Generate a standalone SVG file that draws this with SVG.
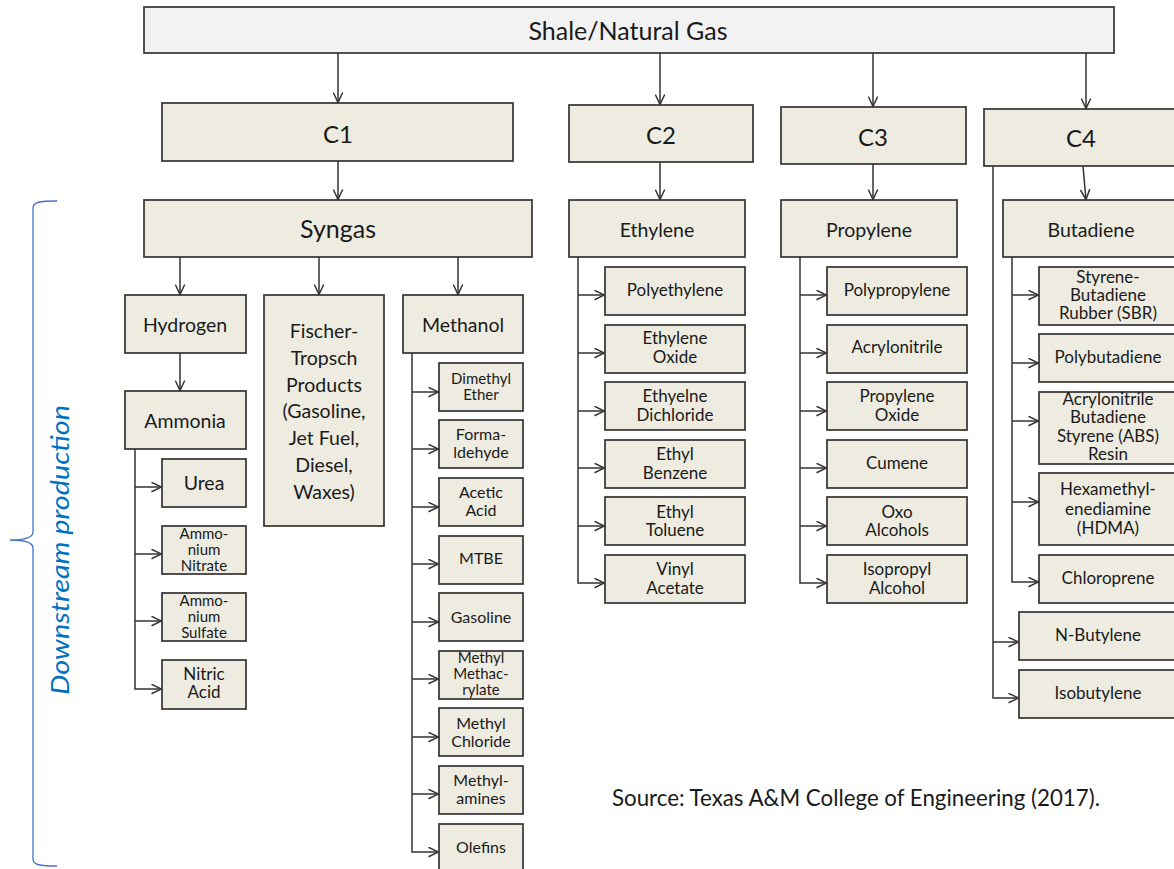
<svg xmlns="http://www.w3.org/2000/svg" width="1174" height="869" viewBox="0 0 1174 869">
<style>
.box{fill:#eeece1;stroke:#333333;stroke-width:1.7}
.top{fill:#f2f2f2;stroke:#333333;stroke-width:1.7}
text{font-family:Lato,"Liberation Sans",sans-serif;fill:#1a1a1a;text-anchor:middle}
.f25{font-size:25px}.f24{font-size:24px}.f19{font-size:19.5px}.f17{font-size:17px}.f16{font-size:16px}.f15{font-size:15px}
.con{fill:none;stroke:#333333;stroke-width:1.5}
.arr{marker-end:url(#ah)}
</style>
<defs>
<marker id="ah" viewBox="0 0 12 11" refX="11.5" refY="5.5" markerWidth="12" markerHeight="11" markerUnits="userSpaceOnUse" orient="auto">
<path d="M1,0.8 L11,5.5 L1,10.2" fill="none" stroke="#333333" stroke-width="1.5"/>
</marker>
</defs>
<rect width="1174" height="869" fill="#ffffff"/>

<g id="connectors" class="con">
<path class="arr" d="M338,53V103"/>
<path class="arr" d="M660,53V105"/>
<path class="arr" d="M873,53V107"/>
<path class="arr" d="M1086,53V109"/>
<path class="arr" d="M338,161V200"/>
<path class="arr" d="M660,162V200"/>
<path class="arr" d="M873,164V200"/>
<path class="arr" d="M1083,166L1086,200"/>
<path class="arr" d="M180,257V295"/>
<path class="arr" d="M319,257V295"/>
<path class="arr" d="M458,257V295"/>
<path class="arr" d="M180,353V391"/>
<path class="arr" d="M135,449V689H162"/>
<path class="arr" d="M135,487H162"/>
<path class="arr" d="M135,554H162"/>
<path class="arr" d="M135,621H162"/>
<path class="arr" d="M412,353V852H439"/>
<path class="arr" d="M412,392H439"/>
<path class="arr" d="M412,449H439"/>
<path class="arr" d="M412,507H439"/>
<path class="arr" d="M412,564H439"/>
<path class="arr" d="M412,622H439"/>
<path class="arr" d="M412,679H439"/>
<path class="arr" d="M412,737H439"/>
<path class="arr" d="M412,794H439"/>
<path class="arr" d="M578,257V583H605"/>
<path class="arr" d="M578,295H605"/>
<path class="arr" d="M578,353H605"/>
<path class="arr" d="M578,411H605"/>
<path class="arr" d="M578,468H605"/>
<path class="arr" d="M578,526H605"/>
<path class="arr" d="M800,257V583H827"/>
<path class="arr" d="M800,295H827"/>
<path class="arr" d="M800,353H827"/>
<path class="arr" d="M800,411H827"/>
<path class="arr" d="M800,468H827"/>
<path class="arr" d="M800,526H827"/>
<path class="arr" d="M1012,257V582H1039"/>
<path class="arr" d="M1012,295H1039"/>
<path class="arr" d="M1012,363H1039"/>
<path class="arr" d="M1012,421H1039"/>
<path class="arr" d="M1012,502H1039"/>
<path class="arr" d="M993,166V698H1019"/>
<path class="arr" d="M993,642H1019"/>
</g>

<g id="shale"><rect class="top" x="144" y="7" width="970" height="46"/><text class="f25" x="628" y="40">Shale/Natural Gas</text></g>
<g id="c1"><rect class="box" x="162" y="103" width="351" height="58"/><text class="f24" x="338" y="143">C1</text></g>
<g id="c2"><rect class="box" x="569" y="105" width="184" height="57"/><text class="f24" x="661" y="144">C2</text></g>
<g id="c3"><rect class="box" x="781" y="107" width="185" height="57"/><text class="f24" x="873" y="146">C3</text></g>
<g id="c4"><rect class="box" x="984" y="109" width="200" height="57"/><text class="f24" x="1081" y="147">C4</text></g>

<g id="syngas"><rect class="box" x="144" y="200" width="388" height="57"/><text class="f25" x="338" y="238">Syngas</text></g>
<g id="ethylene"><rect class="box" x="569" y="200" width="176" height="57"/><text class="f19" x="657" y="237">Ethylene</text></g>
<g id="propylene"><rect class="box" x="781" y="200" width="176" height="57"/><text class="f19" x="869" y="237">Propylene</text></g>
<g id="butadiene"><rect class="box" x="1003" y="200" width="180" height="57"/><text class="f19" x="1091" y="237">Butadiene</text></g>

<g id="hydrogen"><rect class="box" x="125" y="295" width="121" height="58"/><text class="f19" x="185" y="332">Hydrogen</text></g>
<g id="fischer"><rect class="box" x="264" y="295" width="120" height="231"/><text class="f19" x="324" y="338"><tspan x="324">Fischer-</tspan><tspan x="324" dy="26.8">Tropsch</tspan><tspan x="324" dy="26.8">Products</tspan><tspan x="324" dy="26.8">(Gasoline,</tspan><tspan x="324" dy="26.8">Jet Fuel,</tspan><tspan x="324" dy="26.8">Diesel,</tspan><tspan x="324" dy="26.8">Waxes)</tspan></text></g>
<g id="methanol"><rect class="box" x="403" y="295" width="120" height="58"/><text class="f19" x="463" y="332">Methanol</text></g>
<g id="ammonia"><rect class="box" x="125" y="391" width="121" height="58"/><text class="f19" x="185" y="428">Ammonia</text></g>

<g id="urea"><rect class="box" x="162" y="459" width="84" height="48"/><text class="f19" x="204" y="490">Urea</text></g>
<g id="ammonium-nitrate"><rect class="box" x="162" y="526" width="84" height="48"/><text class="f15" x="204" y="539"><tspan x="204">Ammo-</tspan><tspan x="204" dy="15.8">nium</tspan><tspan x="204" dy="15.8">Nitrate</tspan></text></g>
<g id="ammonium-sulfate"><rect class="box" x="162" y="593" width="84" height="48"/><text class="f15" x="204" y="606"><tspan x="204">Ammo-</tspan><tspan x="204" dy="15.8">nium</tspan><tspan x="204" dy="15.8">Sulfate</tspan></text></g>
<g id="nitric-acid"><rect class="box" x="162" y="660" width="84" height="49"/><text class="f17" x="204" y="680"><tspan x="204">Nitric</tspan><tspan x="204" dy="18">Acid</tspan></text></g>

<g id="dimethyl-ether"><rect class="box" x="439" y="363" width="84" height="48"/><text class="f15" x="481" y="384"><tspan x="481">Dimethyl</tspan><tspan x="481" dy="15.5">Ether</tspan></text></g>
<g id="formaldehyde"><rect class="box" x="439" y="420" width="84" height="48"/><text class="f16" x="481" y="440"><tspan x="481">Forma-</tspan><tspan x="481" dy="18">ldehyde</tspan></text></g>
<g id="acetic-acid"><rect class="box" x="439" y="478" width="84" height="48"/><text class="f16" x="481" y="498"><tspan x="481">Acetic</tspan><tspan x="481" dy="18">Acid</tspan></text></g>
<g id="mtbe"><rect class="box" x="439" y="536" width="84" height="48"/><text class="f16" x="481" y="564">MTBE</text></g>
<g id="gasoline"><rect class="box" x="439" y="593" width="84" height="48"/><text class="f16" x="481" y="623">Gasoline</text></g>
<g id="methyl-methacrylate"><rect class="box" x="439" y="651" width="84" height="48"/><text class="f15" x="481" y="663"><tspan x="481">Methyl</tspan><tspan x="481" dy="16">Methac-</tspan><tspan x="481" dy="16">rylate</tspan></text></g>
<g id="methyl-chloride"><rect class="box" x="439" y="708" width="84" height="48"/><text class="f16" x="481" y="729"><tspan x="481">Methyl</tspan><tspan x="481" dy="17.5">Chloride</tspan></text></g>
<g id="methylamines"><rect class="box" x="439" y="766" width="84" height="48"/><text class="f16" x="481" y="786"><tspan x="481">Methyl-</tspan><tspan x="481" dy="17.5">amines</tspan></text></g>
<g id="olefins"><rect class="box" x="439" y="824" width="84" height="50"/><text class="f16" x="481" y="853">Olefins</text></g>

<g id="polyethylene"><rect class="box" x="605" y="267" width="140" height="48"/><text class="f17" x="675" y="296">Polyethylene</text></g>
<g id="ethylene-oxide"><rect class="box" x="605" y="325" width="140" height="48"/><text class="f17" x="675" y="344"><tspan x="675">Ethylene</tspan><tspan x="675" dy="18.5">Oxide</tspan></text></g>
<g id="ethylene-dichloride"><rect class="box" x="605" y="382" width="140" height="48"/><text class="f17" x="675" y="402"><tspan x="675">Ethyelne</tspan><tspan x="675" dy="18.5">Dichloride</tspan></text></g>
<g id="ethyl-benzene"><rect class="box" x="605" y="440" width="140" height="48"/><text class="f17" x="675" y="460"><tspan x="675">Ethyl</tspan><tspan x="675" dy="18.5">Benzene</tspan></text></g>
<g id="ethyl-toluene"><rect class="box" x="605" y="497" width="140" height="48"/><text class="f17" x="675" y="518"><tspan x="675">Ethyl</tspan><tspan x="675" dy="18">Toluene</tspan></text></g>
<g id="vinyl-acetate"><rect class="box" x="605" y="555" width="140" height="48"/><text class="f17" x="675" y="575"><tspan x="675">Vinyl</tspan><tspan x="675" dy="18.5">Acetate</tspan></text></g>

<g id="polypropylene"><rect class="box" x="827" y="267" width="140" height="48"/><text class="f17" x="897" y="296">Polypropylene</text></g>
<g id="acrylonitrile"><rect class="box" x="827" y="325" width="140" height="48"/><text class="f17" x="897" y="353">Acrylonitrile</text></g>
<g id="propylene-oxide"><rect class="box" x="827" y="382" width="140" height="48"/><text class="f17" x="897" y="402"><tspan x="897">Propylene</tspan><tspan x="897" dy="18.5">Oxide</tspan></text></g>
<g id="cumene"><rect class="box" x="827" y="440" width="140" height="48"/><text class="f17" x="897" y="469">Cumene</text></g>
<g id="oxo-alcohols"><rect class="box" x="827" y="497" width="140" height="48"/><text class="f17" x="897" y="518"><tspan x="897">Oxo</tspan><tspan x="897" dy="18">Alcohols</tspan></text></g>
<g id="isopropyl-alcohol"><rect class="box" x="827" y="555" width="140" height="48"/><text class="f17" x="897" y="575"><tspan x="897">Isopropyl</tspan><tspan x="897" dy="18.5">Alcohol</tspan></text></g>

<g id="sbr"><rect class="box" x="1039" y="267" width="140" height="58"/><text class="f17" x="1108" y="283"><tspan x="1108">Styrene-</tspan><tspan x="1108" dy="18">Butadiene</tspan><tspan x="1108" dy="18">Rubber (SBR)</tspan></text></g>
<g id="polybutadiene"><rect class="box" x="1039" y="334" width="140" height="48"/><text class="f17" x="1108" y="363">Polybutadiene</text></g>
<g id="abs"><rect class="box" x="1039" y="392" width="140" height="72"/><text class="f17" x="1108" y="405"><tspan x="1108">Acrylonitrile</tspan><tspan x="1108" dy="18.3">Butadiene</tspan><tspan x="1108" dy="18.3">Styrene (ABS)</tspan><tspan x="1108" dy="18.3">Resin</tspan></text></g>
<g id="hdma"><rect class="box" x="1039" y="473" width="140" height="72"/><text class="f17" x="1108" y="495"><tspan x="1108">Hexamethyl-</tspan><tspan x="1108" dy="19.5">enediamine</tspan><tspan x="1108" dy="19.5">(HDMA)</tspan></text></g>
<g id="chloroprene"><rect class="box" x="1039" y="555" width="140" height="48"/><text class="f17" x="1108" y="584">Chloroprene</text></g>
<g id="n-butylene"><rect class="box" x="1019" y="612" width="160" height="48"/><text class="f17" x="1098" y="641">N-Butylene</text></g>
<g id="isobutylene"><rect class="box" x="1019" y="670" width="160" height="48"/><text class="f17" x="1098" y="699">Isobutylene</text></g>

<g id="brace">
<path d="M57,201 C40,201 33,202 33,208 V532 C33,538 22,540 10,540 C22,540 33,542 33,548 V859 C33,865 40,866 57,866" fill="none" stroke="#4472c4" stroke-width="1.3"/>
<text x="0" y="0" transform="translate(69,550) rotate(-90)" textLength="290" lengthAdjust="spacingAndGlyphs" style="font-size:25px;font-style:italic;fill:#0070c0">Downstream production</text>
</g>
<text x="612" y="806" style="font-size:22.3px;text-anchor:start">Source: Texas A&amp;M College of Engineering (2017).</text>
</svg>
